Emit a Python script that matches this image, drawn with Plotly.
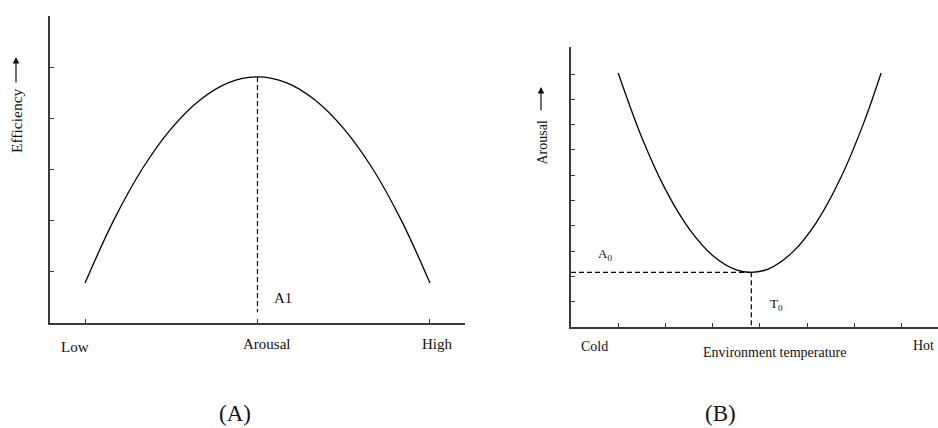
import plotly.graph_objects as go

# ---------------- data ----------------
# Panel A: efficiency vs arousal (inverted U)
a_x = [1.0, 1.5, 2.0, 2.5, 3.0, 3.5, 4.0, 4.5, 5.0, 5.5, 6.0, 6.5, 7.0]
a_y = [0.78, 2.01, 3.02, 3.80, 4.36, 4.70, 4.81, 4.70, 4.36, 3.80, 3.02, 2.01, 0.78]
a_peak_x = 4.0
a_peak_y = 4.81
a_drop_bottom = 0.21
a_xticks = [1, 4, 7]
a_yticks = [1, 2, 3, 4, 5]
a_xlabels = ["Low", "Arousal", "High"]
a_xlabel_pos = [0.82, 4.17, 7.13]

# Panel B: arousal vs environment temperature (U shape)
b_x = [1.0, 1.5, 2.0, 2.5, 3.0, 3.5, 3.82, 4.2, 4.7, 5.2, 5.7, 6.2, 6.57]
b_y = [10.04, 7.49, 5.44, 3.89, 2.83, 2.26, 2.16, 2.31, 2.97, 4.14, 5.84, 8.06, 10.04]
b_min_x = 3.82
b_min_y = 2.16
b_xticks = [1, 2, 3, 4, 5, 6, 7]
b_yticks = [1, 2, 3, 4, 5, 6, 7, 8, 9, 10]
b_xlabels = ["Cold", "Hot"]
b_xlabel_pos = [0.50, 7.46]

# ---------------- figure ----------------
W, H = 938, 428
FONT = "Liberation Serif"
AXC = "#3a3a3a"
DASH = "5px,3px"


def py(p):
    return 1 - p / H


def px(p):
    return p / W


fig = go.Figure()

fig.add_trace(go.Scatter(x=a_x, y=a_y, mode="lines", line=dict(color="black", width=1.3, shape="spline", smoothing=1.0),
                         xaxis="x", yaxis="y", hoverinfo="skip"))
fig.add_trace(go.Scatter(x=[a_peak_x, a_peak_x], y=[a_peak_y, a_drop_bottom], mode="lines",
                         line=dict(color="black", width=1.2, dash=DASH), xaxis="x", yaxis="y", hoverinfo="skip"))

fig.add_trace(go.Scatter(x=b_x, y=b_y, mode="lines", line=dict(color="black", width=1.3, shape="spline", smoothing=1.0),
                         xaxis="x2", yaxis="y2", hoverinfo="skip"))
fig.add_trace(go.Scatter(x=[0, b_min_x], y=[b_min_y, b_min_y], mode="lines",
                         line=dict(color="black", width=1.2, dash=DASH), xaxis="x2", yaxis="y2", hoverinfo="skip"))
fig.add_trace(go.Scatter(x=[b_min_x, b_min_x], y=[b_min_y, 0], mode="lines",
                         line=dict(color="black", width=1.2, dash=DASH), xaxis="x2", yaxis="y2", hoverinfo="skip"))

axis_common = dict(showgrid=False, zeroline=False, showline=True, linecolor=AXC, linewidth=2,
                   ticks="inside", ticklen=4, tickwidth=1, tickcolor=AXC, showticklabels=False,
                   tickmode="array", fixedrange=True)

fig.update_layout(
    width=W, height=H,
    margin=dict(l=0, r=0, t=0, b=0),
    paper_bgcolor="white", plot_bgcolor="white",
    showlegend=False,
    font=dict(family=FONT, color="#111"),
    xaxis=dict(domain=[px(50), px(465)], range=[0.391, 7.609], tickvals=a_xticks, anchor="y", **axis_common),
    yaxis=dict(domain=[py(323), py(16)], range=[0, 6.0], tickvals=a_yticks, anchor="x", **axis_common),
    xaxis2=dict(domain=[px(571), 1.0], range=[0, 7.775], tickvals=b_xticks, anchor="y2", **axis_common),
    yaxis2=dict(domain=[py(327), py(47)], range=[0, 11.07], tickvals=b_yticks, anchor="x2", **axis_common),
)

ann = []
# Panel A x labels
for lab, xv, yp in zip(a_xlabels, a_xlabel_pos, [347, 344, 344]):
    ann.append(dict(x=xv, xref="x", y=py(yp), yref="paper", text=lab, showarrow=False,
                    xanchor="center", yanchor="middle", font=dict(size=15, family=FONT, color="#111")))
ann.append(dict(x=4.25, xref="x", y=0.49, yref="y", text="A1", showarrow=False,
                xanchor="left", yanchor="middle", font=dict(size=15, family=FONT, color="#111")))
# Panel A y title
ann.append(dict(x=px(17), xref="paper", y=py(121), yref="paper", text="Efficiency", textangle=-90,
                showarrow=False, xanchor="center", yanchor="middle", font=dict(size=15.5, family=FONT, color="#111")))
ann.append(dict(x=px(16), xref="paper", y=py(57), yref="paper", text="", showarrow=True, ax=0, ay=27,
                arrowhead=2, arrowsize=1.1, arrowwidth=1.2, arrowcolor="#111", standoff=0, startstandoff=0))

# Panel B labels
for lab, xv, yp in zip(b_xlabels, b_xlabel_pos, [346.5, 345]):
    ann.append(dict(x=xv, xref="x2", y=py(yp), yref="paper", text=lab, showarrow=False,
                    xanchor="center", yanchor="middle", font=dict(size=14, family=FONT, color="#111")))
ann.append(dict(x=4.31, xref="x2", y=py(352.5), yref="paper", text="Environment temperature", showarrow=False,
                xanchor="center", yanchor="middle", font=dict(size=14, family=FONT, color="#111")))
ann.append(dict(x=0.53, xref="x2", y=2.85, yref="y2", text="A<sub>0</sub>", showarrow=False,
                xanchor="left", yanchor="middle", font=dict(size=13, family=FONT, color="#111")))
ann.append(dict(x=4.17, xref="x2", y=0.87, yref="y2", text="T<sub>0</sub>", showarrow=False,
                xanchor="left", yanchor="middle", font=dict(size=13, family=FONT, color="#111")))
ann.append(dict(x=px(542), xref="paper", y=py(142.5), yref="paper", text="Arousal", textangle=-90,
                showarrow=False, xanchor="center", yanchor="middle", font=dict(size=14, family=FONT, color="#111")))
ann.append(dict(x=px(541), xref="paper", y=py(87), yref="paper", text="", showarrow=True, ax=0, ay=25,
                arrowhead=2, arrowsize=1.1, arrowwidth=1.2, arrowcolor="#111", standoff=0, startstandoff=0))

# Panel captions
ann.append(dict(x=px(234.5), xref="paper", y=py(413), yref="paper", text="(A)", showarrow=False,
                xanchor="center", yanchor="middle", font=dict(size=23, family=FONT, color="#111")))
ann.append(dict(x=px(720), xref="paper", y=py(413), yref="paper", text="(B)", showarrow=False,
                xanchor="center", yanchor="middle", font=dict(size=23, family=FONT, color="#111")))

fig.update_layout(annotations=ann)
fig.write_html("out.html")
